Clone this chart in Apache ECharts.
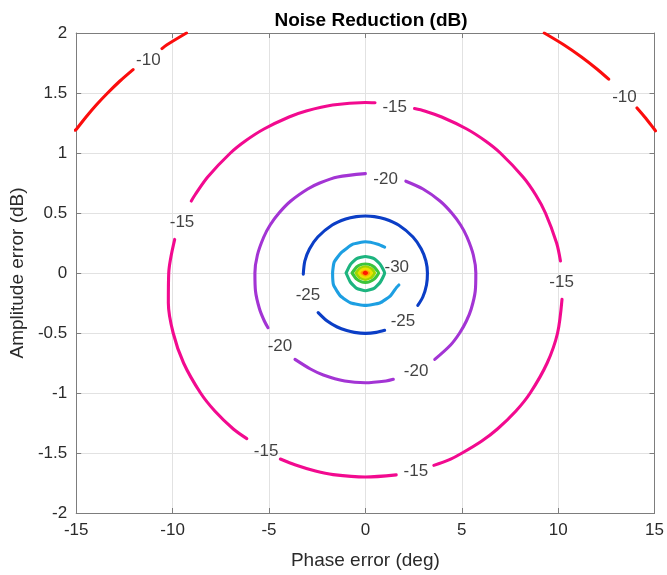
<!DOCTYPE html>
<html>
<head>
<meta charset="utf-8">
<script src="https://cdn.jsdelivr.net/npm/echarts@6/dist/echarts.min.js"></script>
<style>
  html, body { margin: 0; padding: 0; background: #ffffff; }
  #chart { width: 667px; height: 575px; }
</style>
</head>
<body>
<div id="chart"></div>
<script>
// ---------------- DATA ----------------
const chartTitle = 'Noise Reduction (dB)';
const xAxisName = 'Phase error (deg)';
const yAxisName = 'Amplitude error (dB)';
const xTicks = [-15, -10, -5, 0, 5, 10, 15];
const yTicks = [-2, -1.5, -1, -0.5, 0, 0.5, 1, 1.5, 2];

// contour levels (dB), each contour given as a list of line pieces [[phase, amplitude], ...]
const levels = [-10, -15, -20, -25, -30, -35, -40, -45, -50, -55, -60];

const contourM10 = [
  [[-15.05, 1.19], [-14.98, 1.2], [-14.49, 1.3], [-13.96, 1.4], [-13.37, 1.5], [-12.73, 1.6], [-12.05, 1.695]],
  [[-10.55, 1.87], [-10.31, 1.9], [-9.28, 2.0]],
  [[9.28, 2.0], [10.31, 1.9], [11.21, 1.8], [12.01, 1.7], [12.62, 1.615]],
  [[14.09, 1.375], [14.49, 1.3], [14.98, 1.2], [15.05, 1.185]]
];

const contourM15 = [
  [[2.55, 1.37], [3.07, 1.35], [3.96, 1.3], [5.26, 1.2], [6.23, 1.1], [7.0, 1.0], [8.18, 0.8], [8.84, 0.65], [9.34, 0.5], [9.92, 0.25], [10.12, 0.1]],
  [[10.2, -0.22], [9.97, -0.5], [9.43, -0.75], [8.55, -1.0], [7.81, -1.15], [6.85, -1.3], [6.04, -1.4], [5.02, -1.5], [4.3, -1.56], [3.55, -1.603]],
  [[1.6, -1.682], [0, -1.7], [-1.67, -1.68], [-2.59, -1.65], [-3.62, -1.6], [-4.41, -1.55]],
  [[-6.15, -1.38], [-6.85, -1.3], [-7.81, -1.15], [-8.55, -1.0], [-9.43, -0.75], [-9.97, -0.5], [-10.22, -0.25], [-10.2, 0], [-9.89, 0.28]],
  [[-9.03, 0.6], [-8.84, 0.65], [-8.18, 0.8], [-7.0, 1.0], [-6.23, 1.1], [-5.26, 1.2], [-3.96, 1.3], [-3.07, 1.35], [-1.7, 1.4], [0, 1.421], [0.5, 1.419]]
];

const contourM20 = [
  [[2.1, 0.765], [2.99, 0.7], [3.87, 0.6], [4.48, 0.5], [4.94, 0.4], [5.27, 0.3], [5.6, 0.15], [5.73, 0], [5.7, -0.15], [5.49, -0.3], [5.24, -0.4], [4.89, -0.5], [4.42, -0.6], [3.6, -0.72]],
  [[1.45, -0.886], [1.07, -0.9], [0, -0.915], [-1.07, -0.9], [-2.18, -0.85], [-2.85, -0.8], [-3.65, -0.72]],
  [[-5.05, -0.456], [-5.24, -0.4], [-5.49, -0.3], [-5.7, -0.15], [-5.73, 0], [-5.6, 0.15], [-5.27, 0.3], [-4.94, 0.4], [-4.48, 0.5], [-3.87, 0.6], [-2.99, 0.7], [-2.37, 0.75], [-1.44, 0.8], [0, 0.828]]
];

const contourM25 = [
  [[-3.22, -0.01], [-3.14, 0.1], [-2.9, 0.2], [-2.47, 0.3], [-1.72, 0.4], [-1.02, 0.45], [-0.47, 0.47], [0, 0.475], [0.47, 0.47], [1.02, 0.45], [1.72, 0.4], [2.47, 0.3], [2.9, 0.2], [3.14, 0.1], [3.22, 0], [3.17, -0.1], [2.98, -0.2], [2.72, -0.27]],
  [[1.0, -0.478], [0.57, -0.495], [0, -0.503], [-0.57, -0.495], [-0.97, -0.48], [-1.46, -0.45], [-1.98, -0.4], [-2.45, -0.33]]
];

const contourM30 = [
  [[1.0, 0.215], [0.65, 0.24], [0, 0.26], [-0.65, 0.24], [-1.25, 0.17], [-1.62, 0.09], [-1.7, 0], [-1.65, -0.1], [-1.3, -0.19], [-0.75, -0.25], [0, -0.27], [0.75, -0.25], [1.3, -0.19], [1.62, -0.12], [1.74, -0.1]]
];

const contourM35 = [
  [[-1.0, 0], [-0.78, 0.07], [-0.45, 0.12], [0, 0.138], [0.45, 0.12], [0.78, 0.07], [1.0, 0], [0.78, -0.075], [0.45, -0.128], [0, -0.148], [-0.45, -0.128], [-0.78, -0.075], [-1.0, 0]]
];

const contourM40 = [
  [[-0.69, 0], [-0.45, 0.05], [-0.2, 0.072], [0, 0.075], [0.2, 0.072], [0.45, 0.05], [0.69, 0], [0.45, -0.052], [0.2, -0.074], [0, -0.078], [-0.2, -0.074], [-0.45, -0.052], [-0.69, 0]]
];
const contourM45 = [
  [[-0.48, 0], [-0.3, 0.036], [0, 0.052], [0.3, 0.036], [0.48, 0], [0.3, -0.037], [0, -0.054], [-0.3, -0.037], [-0.48, 0]]
];
const contourM50 = [
  [[-0.32, 0], [-0.18, 0.024], [0, 0.033], [0.18, 0.024], [0.32, 0], [0.18, -0.025], [0, -0.034], [-0.18, -0.025], [-0.32, 0]]
];
const contourM55 = [
  [[-0.17, 0], [0, 0.015], [0.17, 0], [0, -0.016], [-0.17, 0]]
];
const contourM60 = [
  [[-0.06, 0], [0, 0.005], [0.06, 0], [0, -0.005], [-0.06, 0]]
];

// in-line contour labels
const labelPhase = [-11.26, 13.44, 1.52, -9.51, 10.18, -5.15, 2.62, 1.05, -4.43, 2.63, -2.98, 1.95, 1.63];
const labelAmp   = [1.775, 1.465, 1.38, 0.425, -0.077, -1.49, -1.65, 0.783, -0.614, -0.816, -0.19, -0.40, 0.047];
const labelText  = ['-10', '-10', '-15', '-15', '-15', '-15', '-15', '-20', '-20', '-20', '-25', '-25', '-30'];

// ---------------- STYLE ----------------
const contours = [contourM10, contourM15, contourM20, contourM25, contourM30, contourM35,
                  contourM40, contourM45, contourM50, contourM55, contourM60];
const levelColors = ['#fb0d0d', '#f20a8f', '#a334d4', '#0b3ec6', '#1d9fe2', '#1db47f',
                     '#3cc43c', '#9fd600', '#ece000', '#ff9a00', '#ff1a00'];
const FONT = '"Liberation Sans", Arial, Helvetica, sans-serif';
const AXIS_COLOR = '#7d7d7d';
const TEXT_COLOR = '#2a2a2a';

const series = [];
contours.forEach((pieces, li) => {
  pieces.forEach(piece => {
    series.push({
      type: 'line',
      name: String(levels[li]),
      data: piece,
      xAxisIndex: 0,
      yAxisIndex: 0,
      showSymbol: false,
      symbol: 'none',
      smooth: li <= 3 ? 0.3 : 0.15,
      clip: true,
      silent: true,
      z: 3 + li,
      lineStyle: { color: levelColors[li], width: 3.1, cap: 'round', join: 'round' }
    });
  });
});

series.push({
  type: 'scatter',
  xAxisIndex: 0,
  yAxisIndex: 0,
  data: labelPhase.map((p, i) => [p, labelAmp[i]]),
  symbolSize: 1,
  itemStyle: { color: 'rgba(0,0,0,0)' },
  silent: true,
  z: 30,
  label: {
    show: true,
    position: 'inside',
    formatter: p => labelText[p.dataIndex],
    fontFamily: FONT,
    fontSize: 17,
    color: '#111111'
  }
});

const xMin = xTicks[0], xMax = xTicks[xTicks.length - 1], xStep = xTicks[1] - xTicks[0];
const yMin = yTicks[0], yMax = yTicks[yTicks.length - 1], yStep = yTicks[1] - yTicks[0];

function axisBase(min, max, step, show) {
  return {
    type: 'value', min: min, max: max, interval: step,
    axisLine: { show: true, onZero: false, lineStyle: { color: AXIS_COLOR, width: 1 } },
    axisTick: { show: true, inside: true, length: 5, lineStyle: { color: AXIS_COLOR } },
    axisLabel: { show: show, fontFamily: FONT, fontSize: 17, color: TEXT_COLOR, margin: 9 },
    splitLine: { show: show, lineStyle: { color: '#e2e2e2', width: 1 } }
  };
}

const option = {
  animation: false,
  backgroundColor: '#ffffff',
  title: {
    text: chartTitle,
    left: 366,
    textAlign: 'center',
    top: 6,
    textStyle: { fontFamily: FONT, fontSize: 19, fontWeight: 'bold', color: '#000000' }
  },
  grid: { left: 74, right: 10, top: 33, bottom: 61, containLabel: false },
  xAxis: [
    Object.assign(axisBase(xMin, xMax, xStep, true), {
      position: 'bottom',
      name: xAxisName, nameLocation: 'middle', nameGap: 38,
      nameTextStyle: { fontFamily: FONT, fontSize: 19, color: TEXT_COLOR }
    }),
    Object.assign(axisBase(xMin, xMax, xStep, false), { position: 'top' })
  ],
  yAxis: [
    Object.assign(axisBase(yMin, yMax, yStep, true), {
      position: 'left',
      name: yAxisName, nameLocation: 'middle', nameGap: 42,
      nameTextStyle: { fontFamily: FONT, fontSize: 19, color: TEXT_COLOR }
    }),
    Object.assign(axisBase(yMin, yMax, yStep, false), { position: 'right' })
  ],
  series: series
};

const chart = echarts.init(document.getElementById('chart'), null, { renderer: 'canvas' });
chart.setOption(option);
</script>
</body>
</html>
